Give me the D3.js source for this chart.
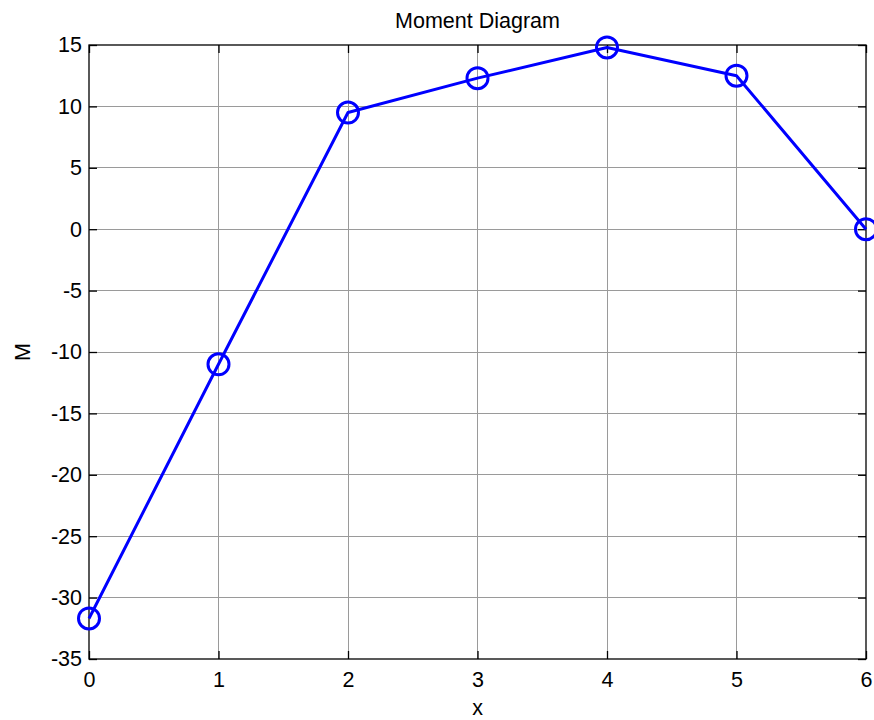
<!DOCTYPE html>
<html>
<head>
<meta charset="utf-8">
<script src="https://cdn.jsdelivr.net/npm/d3@7"></script>
<style>
  body { margin: 0; background: #fff; }
  svg { display: block; font-family: "Liberation Sans", Arial, sans-serif; }
</style>
</head>
<body>
<div id="plot"></div>
<script>
// data
var xs = [0, 1, 2, 3, 4, 5, 6];
var moments = [-31.7, -11.0, 9.5, 12.3, 14.8, 12.5, 0.0];
var xTicks = [0, 1, 2, 3, 4, 5, 6];
var yTicks = [-35, -30, -25, -20, -15, -10, -5, 0, 5, 10, 15];

var fontSize = 21.5;

var margin = { top: 45, right: 8, bottom: 61, left: 89 },
  width = 874 - margin.left - margin.right,
  height = 720 - margin.top - margin.bottom;

var svgRoot = d3.select("#plot")
  .append("svg")
  .attr("width", 874)
  .attr("height", 720);

var svg = svgRoot.append("g")
  .attr("transform", `translate(${margin.left},${margin.top})`);

var x = d3.scaleLinear().domain([0, 6]).range([0, width]);
var y = d3.scaleLinear().domain([-35, 15]).range([height, 0]);

// plain hyphen for negatives, like the original
var fmt = function (d) { return String(d); };

// grid
svg.append("g").selectAll("line")
  .data(xTicks.slice(1, -1))
  .join("line")
  .attr("x1", d => x(d)).attr("x2", d => x(d))
  .attr("y1", 0).attr("y2", height)
  .attr("stroke", "#9a9a9a")
  .attr("stroke-width", 1)
  .attr("shape-rendering", "crispEdges");

svg.append("g").selectAll("line")
  .data(yTicks.slice(1, -1))
  .join("line")
  .attr("x1", 0).attr("x2", width)
  .attr("y1", d => y(d)).attr("y2", d => y(d))
  .attr("stroke", "#9a9a9a")
  .attr("stroke-width", 1)
  .attr("shape-rendering", "crispEdges");

// axes with inward ticks
svg.append("g")
  .attr("transform", `translate(0,${height})`)
  .call(d3.axisBottom(x).tickValues(xTicks).tickFormat(fmt)
    .tickSizeInner(-8).tickSizeOuter(0).tickPadding(13));

svg.append("g")
  .call(d3.axisLeft(y).tickValues(yTicks).tickFormat(fmt)
    .tickSizeInner(-8).tickSizeOuter(0).tickPadding(7));

svg.append("g")
  .call(d3.axisTop(x).tickValues(xTicks).tickFormat("")
    .tickSizeInner(-8).tickSizeOuter(0));

svg.append("g")
  .attr("transform", `translate(${width},0)`)
  .call(d3.axisRight(y).tickValues(yTicks).tickFormat("")
    .tickSizeInner(-8).tickSizeOuter(0));

svg.selectAll(".tick line").attr("stroke", "#000").attr("stroke-width", 1.3);
svg.selectAll(".domain").remove();
svg.selectAll(".tick text")
  .attr("font-size", fontSize)
  .attr("font-family", "Liberation Sans, Arial, sans-serif")
  .attr("fill", "#000");

// box
svg.append("rect")
  .attr("x", 0).attr("y", 0)
  .attr("width", width).attr("height", height)
  .attr("fill", "none")
  .attr("stroke", "#000")
  .attr("stroke-width", 1.3);

// line + markers
var pts = xs.map((d, i) => ({ x: d, m: moments[i] }));

svg.append("path")
  .datum(pts)
  .attr("fill", "none")
  .attr("stroke", "#0000ff")
  .attr("stroke-width", 3)
  .attr("stroke-linejoin", "round")
  .attr("d", d3.line().x(d => x(d.x)).y(d => y(d.m)));

svg.selectAll("circle.mk")
  .data(pts)
  .join("circle")
  .attr("class", "mk")
  .attr("cx", d => x(d.x))
  .attr("cy", d => y(d.m))
  .attr("r", 10.5)
  .attr("fill", "none")
  .attr("stroke", "#0000ff")
  .attr("stroke-width", 3);

// labels
svgRoot.append("text")
  .attr("x", margin.left + width / 2)
  .attr("y", 28)
  .attr("text-anchor", "middle")
  .attr("font-size", fontSize)
  .text("Moment Diagram");

svgRoot.append("text")
  .attr("x", margin.left + width / 2)
  .attr("y", 715)
  .attr("text-anchor", "middle")
  .attr("font-size", fontSize)
  .text("x");

svgRoot.append("text")
  .attr("transform", `translate(30,${margin.top + height / 2}) rotate(-90)`)
  .attr("text-anchor", "middle")
  .attr("font-size", fontSize)
  .text("M");
</script>
</body>
</html>
